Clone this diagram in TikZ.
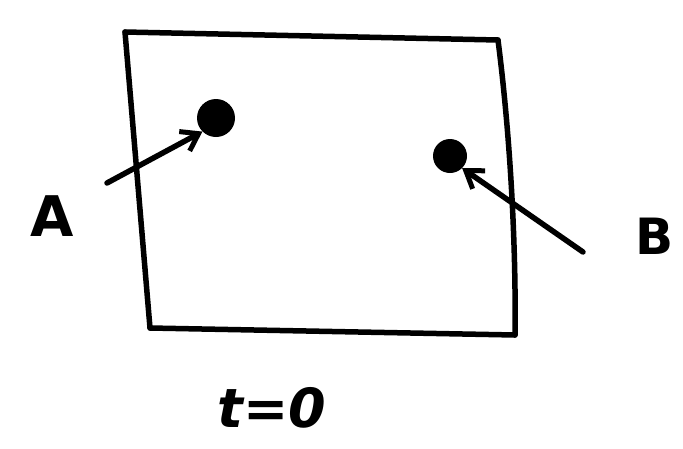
\documentclass[tikz,border=0pt]{standalone}
\usepackage{fontspec}
\setmainfont{DejaVu Sans}
\usetikzlibrary{arrows.meta}
\begin{document}
\begin{tikzpicture}[x=1pt,y=-1pt,
  ink/.style={line width=5.5pt,line cap=round,line join=round},
  dot/.style={circle,fill=black,inner sep=0pt},
  lbl/.style={inner sep=0pt,font=\fontsize{56}{56}\selectfont\bfseries},
  arr/.style={ink,-{Straight Barb[length=16pt,width=22pt,line width=5pt]}}]
\useasboundingbox (0,0) rectangle (683,448);
\coordinate (tl) at (125,32);
\coordinate (tr) at (498,40);
\coordinate (br) at (515,335);
\coordinate (bl) at (150,328);
\draw[ink] (tl) -- (tr);
\draw[ink] (tr) .. controls (512,150) and (516,260) .. (br);
\draw[ink] (br) -- (bl);
\draw[ink] (bl) -- (tl);
\node[dot,minimum size=38pt] (da) at (216,118) {};
\node[dot,minimum size=34pt] (db) at (450,156) {};
\node[lbl] (la) at (52,216) {A};
\node[lbl,font=\fontsize{50}{50}\selectfont\bfseries] (lb) at (655,236) {B};
\coordinate (a0) at (107,183);
\coordinate (b0) at (583,252);
\draw[arr] (a0) -- (da.south west);
\draw[arr] (b0) -- (db.south east);
\node[lbl,font=\fontsize{54}{54}\selectfont\bfseries\itshape] (t) at (272,408) {t=0};
\end{tikzpicture}
\end{document}
